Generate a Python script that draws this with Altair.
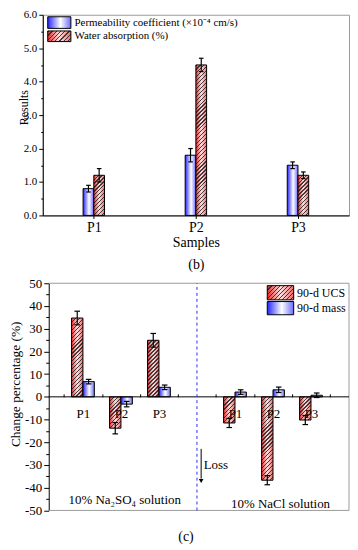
import json
import altair as alt

# ---------------- data ----------------
samples = ["P1", "P2", "P3"]
top_series = ["Permeability coefficient (×10⁻⁴ cm/s)", "Water absorption (%)"]
perm = [0.8, 1.8, 1.5]
perm_err = [0.1, 0.2, 0.1]
water = [1.2, 4.5, 1.2]
water_err = [0.2, 0.2, 0.1]

solutions = ["10% Na₂SO₄ solution", "10% NaCl solution"]
bottom_series = ["90-d UCS", "90-d mass"]
ucs = [34.7, -13.8, 24.9, -11.5, -36.7, -10.2]
ucs_err = [3.0, 2.5, 3.0, 2.0, 2.0, 2.0]
mass = [6.7, -3.2, 4.2, 2.1, 3.1, 0.7]
mass_err = [1.0, 1.2, 1.0, 1.0, 1.2, 1.0]

top_x_title = ["Samples", "(b)"]
top_y_title = "Results"
bottom_y_title = "Change percentage (%)"
bottom_caption = "(c)"
loss_text = "Loss"

# ---------------- layout / style ----------------
FONT = "Liberation Serif"
W_T, H_T = 308.3, 202.0
W_B, H_B = 308.3, 228.7
SHIFT = 6.0
XL, XR = 0.1, 8.0
KX_T = W_T / 3.0
KY_T = H_T / 6.0
KX_B = (W_B - SHIFT) / (XR - XL)
KY_B = H_B / 100.0
XB_DOMAIN = [XL - SHIFT / KX_B, XR]
BW_T = 0.105
BW_B = 0.30
CAP_T = 2.3 / KX_T
CAP_B = 2.8 / KX_B
GRAY = "#9a9a9a"

BLUE_GRAD = {"gradient": "linear", "x1": 0, "y1": 0, "x2": 1, "y2": 0,
             "stops": [{"offset": 0, "color": "#2424ff"},
                       {"offset": 0.55, "color": "#ffffff"},
                       {"offset": 1, "color": "#6b6bff"}]}
RED_GRAD = {"gradient": "linear", "x1": 0, "y1": 0, "x2": 1, "y2": 0,
            "stops": [{"offset": 0, "color": "#e52b2b"},
                      {"offset": 0.5, "color": "#fde2e2"},
                      {"offset": 1, "color": "#ee6a6a"}]}


def hatch_grad(w, h, spacing=4.0, frac=0.33, ink="rgba(35,35,35,0.85)"):
    h = max(h, 0.5)
    r = w / h
    b = (r + 1) / (r * r + 1)
    a = r * b
    n = max(1, int(round((w + h) / spacing)))
    clear = "rgba(255,255,255,0)"
    st = []
    for k in range(n):
        s = k / n
        e = (k + frac) / n
        st += [{"offset": s, "color": clear}, {"offset": s, "color": ink},
               {"offset": e, "color": ink}, {"offset": e, "color": clear}]
    return {"gradient": "linear", "x1": 0, "y1": 0, "x2": a, "y2": b, "stops": st}


ONE = alt.Data(values=[{"k": 0}])

# ======================= TOP PANEL =======================
xs_t = alt.Scale(domain=[0.5, 3.5], nice=False, zero=False)
ys_t = alt.Scale(domain=[0, 6], nice=False, zero=False)

x_axis_t = alt.Axis(values=[1, 2, 3],
                    labelExpr=f"{json.dumps(samples)}[datum.value - 1]",
                    tickSize=3, labelPadding=2, labelFontSize=14,
                    title=top_x_title, titleFontSize=14, titlePadding=1,
                    titleLineHeight=22, titleFontWeight="normal")
y_axis_t = alt.Axis(values=[k * 0.5 for k in range(13)],
                    labelExpr="datum.value % 1 == 0 ? format(datum.value, '.1f') : ''",
                    tickSize={"condition": {"test": "datum.value % 1 == 0", "value": 4}, "value": 2},
                    labelPadding=2, labelFontSize=11,
                    title=top_y_title, titleFontSize=12, titleX=-15.7, titleY=93,
                    titleBaseline="alphabetic", titleFontWeight="normal")


def XT(f):
    return alt.X(f, scale=xs_t, axis=x_axis_t)


def YT(f):
    return alt.Y(f, scale=ys_t, axis=y_axis_t)


blue_t, red_t, err_t = [], [], []
for i, s in enumerate(samples):
    p = i + 1
    blue_t.append({"x0": p - BW_T, "x1": p, "v": perm[i]})
    red_t.append({"x0": p, "x1": p + BW_T, "v": water[i],
                  "hatch": hatch_grad(BW_T * KX_T, water[i] * KY_T)})
    for c, v, e in ((p - BW_T / 2, perm[i], perm_err[i]), (p + BW_T / 2, water[i], water_err[i])):
        err_t.append({"xc": c, "lo": v - e, "hi": v + e, "cl": c - CAP_T, "cr": c + CAP_T})

top_layers = [
    alt.Chart(alt.Data(values=blue_t)).mark_bar(fill=BLUE_GRAD, stroke="black", strokeWidth=1, opacity=1).encode(
        x=XT("x0:Q"), x2="x1:Q", y=YT("v:Q"), y2=alt.datum(0)),
    alt.Chart(alt.Data(values=red_t)).mark_bar(fill=RED_GRAD, opacity=1).encode(
        x=XT("x0:Q"), x2="x1:Q", y=YT("v:Q"), y2=alt.datum(0)),
    alt.Chart(alt.Data(values=red_t)).mark_bar(stroke="black", strokeWidth=1, opacity=1).encode(
        x=XT("x0:Q"), x2="x1:Q", y=YT("v:Q"), y2=alt.datum(0),
        fill=alt.Fill("hatch:N", scale=None)),
    alt.Chart(alt.Data(values=err_t)).mark_rule(color="black", strokeWidth=1.2).encode(
        x=XT("xc:Q"), y=YT("lo:Q"), y2="hi:Q"),
    alt.Chart(alt.Data(values=err_t)).mark_rule(color="black", strokeWidth=1.2).encode(
        x=XT("cl:Q"), x2="cr:Q", y=YT("lo:Q")),
    alt.Chart(alt.Data(values=err_t)).mark_rule(color="black", strokeWidth=1.2).encode(
        x=XT("cl:Q"), x2="cr:Q", y=YT("hi:Q")),
    # legend
    alt.Chart(ONE).mark_rect(fill=BLUE_GRAD, stroke="black", strokeWidth=1).encode(
        x=alt.value(5), x2=alt.value(28.3), y=alt.value(2), y2=alt.value(13.7)),
    alt.Chart(ONE).mark_rect(fill=RED_GRAD).encode(
        x=alt.value(5), x2=alt.value(28.3), y=alt.value(16.3), y2=alt.value(27)),
    alt.Chart(ONE).mark_rect(fill=hatch_grad(23.3, 10.7), stroke="black", strokeWidth=1).encode(
        x=alt.value(5), x2=alt.value(28.3), y=alt.value(16.3), y2=alt.value(27)),
    alt.Chart(ONE).mark_text(align="left", baseline="middle", font=FONT, fontSize=11, color="black").encode(
        x=alt.value(32), y=alt.value(8.5), text=alt.value(top_series[0])),
    alt.Chart(ONE).mark_text(align="left", baseline="middle", font=FONT, fontSize=11, color="black").encode(
        x=alt.value(32), y=alt.value(21.5), text=alt.value(top_series[1])),
]
top = alt.layer(*top_layers).properties(
    width=W_T, height=H_T, view=alt.ViewBackground(stroke=GRAY, strokeWidth=1))

# ======================= BOTTOM PANEL =======================
xs_b = alt.Scale(domain=XB_DOMAIN, nice=False, zero=False)
ys_b = alt.Scale(domain=[-50, 50], nice=False, zero=False)

positions = [g * (len(samples) + 1) + i + 1 for g in range(len(solutions)) for i in range(len(samples))]
pos_js = json.dumps(positions)
names_js = json.dumps(samples * len(solutions))
divider = (positions[len(samples) - 1] + positions[len(samples)]) / 2

x_axis_b = alt.Axis(orient="top", offset=-H_B / 2, domain=False, zindex=1,
                    values=[k * 0.5 for k in range(1, 16)],
                    labelExpr=f"indexof({pos_js}, datum.value) >= 0 ? {names_js}[indexof({pos_js}, datum.value)] : ''",
                    tickSize={"condition": {"test": "datum.value % 1 == 0", "value": 0}, "value": 3},
                    labelBaseline="top", labelPadding=-11, labelFontSize=13, title=None)
y_axis_b = alt.Axis(offset=-SHIFT, values=list(range(-50, 55, 5)),
                    labelExpr="datum.value % 10 == 0 ? '' + datum.value : ''",
                    tickSize={"condition": {"test": "datum.value % 10 == 0", "value": 5}, "value": 3},
                    labelPadding=2, labelFontSize=13, title=None)


def XB(f):
    return alt.X(f, scale=xs_b, axis=x_axis_b)


def YB(f):
    return alt.Y(f, scale=ys_b, axis=y_axis_b)


red_b, blue_b, err_b = [], [], []
for j, p in enumerate(positions):
    red_b.append({"x0": p - BW_B, "x1": p, "v": ucs[j],
                  "hatch": hatch_grad(BW_B * KX_B, abs(ucs[j]) * KY_B)})
    blue_b.append({"x0": p, "x1": p + BW_B, "v": mass[j]})
    for c, v, e in ((p - BW_B / 2, ucs[j], ucs_err[j]), (p + BW_B / 2, mass[j], mass_err[j])):
        err_b.append({"xc": c, "lo": v - e, "hi": v + e, "cl": c - CAP_B, "cr": c + CAP_B})

frame_h = [{"x0": XL, "x1": XR, "y": 50}, {"x0": XL, "x1": XR, "y": -50}]
frame_v = [{"x": XR, "y0": -50, "y1": 50}]
zero_line = [{"x0": XL, "x1": XR, "y": 0}]
div_rows = [{"x": divider, "y0": -50, "y1": 50}]
sol_rows = [{"x": 2.1, "y": -45.5, "t": solutions[0]}, {"x": 6.2, "y": -47.0, "t": solutions[1]}]
arrow_rows = [{"x": 4.11, "y0": -22.9, "y1": -36.0}]
head_rows = [{"x": 4.11, "y": -37.0}]
loss_rows = [{"x": 4.15, "y": -30.2, "t": loss_text}]

bottom_layers = [
    alt.Chart(alt.Data(values=red_b)).mark_bar(fill=RED_GRAD, opacity=1).encode(
        x=XB("x0:Q"), x2="x1:Q", y=YB("v:Q"), y2=alt.datum(0)),
    alt.Chart(alt.Data(values=red_b)).mark_bar(stroke="black", strokeWidth=1, opacity=1).encode(
        x=XB("x0:Q"), x2="x1:Q", y=YB("v:Q"), y2=alt.datum(0),
        fill=alt.Fill("hatch:N", scale=None)),
    alt.Chart(alt.Data(values=blue_b)).mark_bar(fill=BLUE_GRAD, stroke="black", strokeWidth=1, opacity=1).encode(
        x=XB("x0:Q"), x2="x1:Q", y=YB("v:Q"), y2=alt.datum(0)),
    alt.Chart(alt.Data(values=err_b)).mark_rule(color="black", strokeWidth=1.2).encode(
        x=XB("xc:Q"), y=YB("lo:Q"), y2="hi:Q"),
    alt.Chart(alt.Data(values=err_b)).mark_rule(color="black", strokeWidth=1.2).encode(
        x=XB("cl:Q"), x2="cr:Q", y=YB("lo:Q")),
    alt.Chart(alt.Data(values=err_b)).mark_rule(color="black", strokeWidth=1.2).encode(
        x=XB("cl:Q"), x2="cr:Q", y=YB("hi:Q")),
    # frame, zero line, divider
    alt.Chart(alt.Data(values=frame_h)).mark_rule(color=GRAY, strokeWidth=1).encode(
        x=XB("x0:Q"), x2="x1:Q", y=YB("y:Q")),
    alt.Chart(alt.Data(values=frame_v)).mark_rule(color=GRAY, strokeWidth=1).encode(
        x=XB("x:Q"), y=YB("y0:Q"), y2="y1:Q"),
    alt.Chart(alt.Data(values=zero_line)).mark_rule(color="black", strokeWidth=1).encode(
        x=XB("x0:Q"), x2="x1:Q", y=YB("y:Q")),
    alt.Chart(alt.Data(values=div_rows)).mark_rule(color="#2b2bff", strokeWidth=1, strokeDash=[3, 3]).encode(
        x=XB("x:Q"), y=YB("y0:Q"), y2="y1:Q"),
    # annotations
    alt.Chart(alt.Data(values=sol_rows)).mark_text(font=FONT, fontSize=13, color="black", baseline="middle").encode(
        x=XB("x:Q"), y=YB("y:Q"), text="t:N"),
    alt.Chart(alt.Data(values=arrow_rows)).mark_rule(color="black", strokeWidth=1).encode(
        x=XB("x:Q"), y=YB("y0:Q"), y2="y1:Q"),
    alt.Chart(alt.Data(values=head_rows)).mark_point(shape="triangle-down", filled=True, size=22, color="black", opacity=1).encode(
        x=XB("x:Q"), y=YB("y:Q")),
    alt.Chart(alt.Data(values=loss_rows)).mark_text(font=FONT, fontSize=13, color="black", align="left", baseline="middle", dx=1).encode(
        x=XB("x:Q"), y=YB("y:Q"), text="t:N"),
    # y-axis title
    alt.Chart(ONE).mark_text(angle=270, align="center", baseline="alphabetic", font=FONT, fontSize=13.5, color="black").encode(
        x=alt.value(-23.2), y=alt.value(101.7), text=alt.value(bottom_y_title)),
    # legend
    alt.Chart(ONE).mark_rect(fill=RED_GRAD).encode(
        x=alt.value(226), x2=alt.value(252.6), y=alt.value(2.4), y2=alt.value(16.7)),
    alt.Chart(ONE).mark_rect(fill=hatch_grad(26.6, 14.3), stroke="black", strokeWidth=1).encode(
        x=alt.value(226), x2=alt.value(252.6), y=alt.value(2.4), y2=alt.value(16.7)),
    alt.Chart(ONE).mark_rect(fill=BLUE_GRAD, stroke="black", strokeWidth=1).encode(
        x=alt.value(226), x2=alt.value(252.6), y=alt.value(18.4), y2=alt.value(31.7)),
    alt.Chart(ONE).mark_text(align="left", baseline="middle", font=FONT, fontSize=12, color="black").encode(
        x=alt.value(256), y=alt.value(9.5), text=alt.value(bottom_series[0])),
    alt.Chart(ONE).mark_text(align="left", baseline="middle", font=FONT, fontSize=12, color="black").encode(
        x=alt.value(256), y=alt.value(25), text=alt.value(bottom_series[1])),
]
bottom = alt.layer(*bottom_layers).properties(
    width=W_B, height=H_B, view=alt.ViewBackground(stroke="transparent"),
    title=alt.TitleParams(text=bottom_caption, orient="bottom", frame="group", anchor="middle",
                          offset=13, dx=-10, fontSize=14, fontWeight="normal", font=FONT, color="black"))

chart = alt.vconcat(top, bottom, spacing=68.3, bounds="flush").properties(
    padding={"top": -2, "left": 0, "right": 0, "bottom": 0}
).configure_axis(
    domainColor="black", tickColor="black", labelColor="black", titleColor="black",
    labelFont=FONT, titleFont=FONT, grid=False, domainWidth=1, tickWidth=1
).configure_title(font=FONT)

chart.save("out.html", embed_options={"renderer": "svg", "actions": False})
